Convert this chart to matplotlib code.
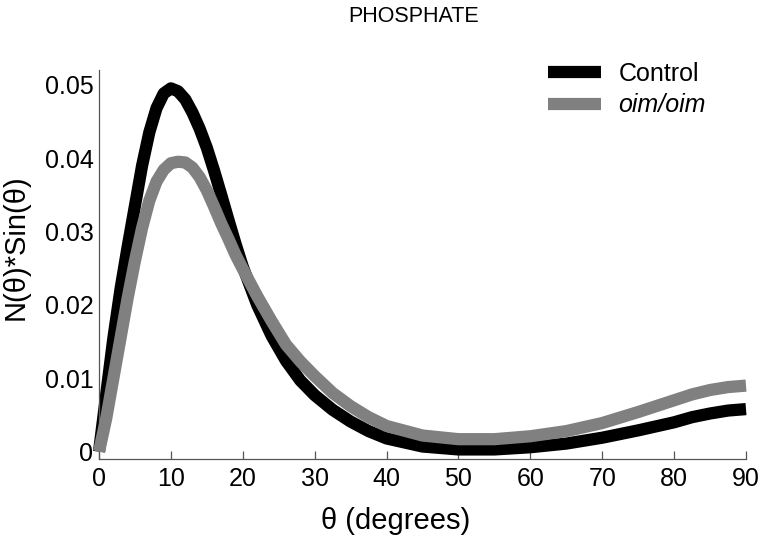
import matplotlib
matplotlib.use("Agg")
import matplotlib.pyplot as plt

plt.rcParams['font.family'] = ['Liberation Sans', 'DejaVu Sans']

theta = [0, 1, 2, 3, 4, 5, 6, 7, 8, 9, 10, 11, 12, 13, 14, 15, 16, 17, 18, 19, 20,
         22, 24, 26, 28, 30, 32.5, 35, 37.5, 40, 45, 50, 55, 60, 65, 70, 75, 80,
         82.5, 85, 87.5, 90]
control = [0.0, 0.0078, 0.0155, 0.0222, 0.0280, 0.0335, 0.0390, 0.0435, 0.0468, 0.0488,
           0.0495, 0.0491, 0.0480, 0.0462, 0.0440, 0.0414, 0.0383, 0.0350, 0.0316, 0.0283,
           0.0252, 0.0200, 0.0158, 0.0124, 0.0097, 0.0077, 0.0057, 0.0041, 0.0028, 0.0018,
           0.0007, 0.0003, 0.0003, 0.0006, 0.0011, 0.0019, 0.0029, 0.0040,
           0.0047, 0.0052, 0.0056, 0.0058]
oim = [0.0, 0.0045, 0.0100, 0.0155, 0.0210, 0.0260, 0.0305, 0.0342, 0.0368, 0.0384,
       0.0393, 0.0395, 0.0394, 0.0387, 0.0374, 0.0356, 0.0334, 0.0311, 0.0290, 0.0268,
       0.0249, 0.0212, 0.0178, 0.0146, 0.0123, 0.0103, 0.0080, 0.0062, 0.0047, 0.0035,
       0.0022, 0.0017, 0.0017, 0.0021, 0.0028, 0.0039, 0.0054, 0.0070,
       0.0078, 0.0084, 0.0088, 0.0090]
xticks = [0, 10, 20, 30, 40, 50, 60, 70, 80, 90]
yticks = [0, 0.01, 0.02, 0.03, 0.04, 0.05]
ytick_labels = ['0', '0.01', '0.02', '0.03', '0.04', '0.05']

W, H = 760, 541
fig = plt.figure(figsize=(W / 100, H / 100), dpi=100)
ax = fig.add_axes([99 / W, (H - 459) / H, (746 - 99) / W, (459 - 70) / H])

lw = 8.8
ax.plot(theta, control, color='black', lw=lw, solid_capstyle='butt',
        solid_joinstyle='round', clip_on=False, zorder=2, label='Control')
ax.plot(theta, oim, color='#808080', lw=lw, solid_capstyle='butt',
        solid_joinstyle='round', clip_on=False, zorder=3, label='oim/oim')

ax.set_xlim(0, 90)
ax.set_ylim(-0.001, 0.052)
ax.set_xticks(xticks)
ax.set_xticklabels([str(t) for t in xticks])
ax.set_yticks(yticks)
ax.set_yticklabels(ytick_labels)

for s in ['top', 'right']:
    ax.spines[s].set_visible(False)
for s in ['left', 'bottom']:
    ax.spines[s].set_color('#555555')
    ax.spines[s].set_linewidth(0.9)

ax.tick_params(axis='x', direction='in', length=6, width=0.9, color='#555555',
               labelsize=18, pad=6)
ax.tick_params(axis='y', length=0, labelsize=18, pad=4)

fig.text(396 / W, 1 - 521 / H, 'θ (degrees)', fontsize=21, ha='center', va='center')
fig.text(16 / W, 1 - 247 / H, 'N(θ)*Sin(θ)', fontsize=21, ha='center', va='center',
         rotation=90)
fig.text(414 / W, 1 - 17 / H, 'PHOSPHATE', fontsize=15.5, ha='center', va='center')

leg = ax.legend(loc='upper left', bbox_to_anchor=(548 / W, 1 - 62 / H),
                bbox_transform=fig.transFigure, frameon=False, fontsize=18,
                handlelength=2.1, handletextpad=0.72, labelspacing=0.3,
                borderpad=0, borderaxespad=0)
leg.get_texts()[1].set_fontstyle('italic')

fig.savefig('out.png', dpi=100)
